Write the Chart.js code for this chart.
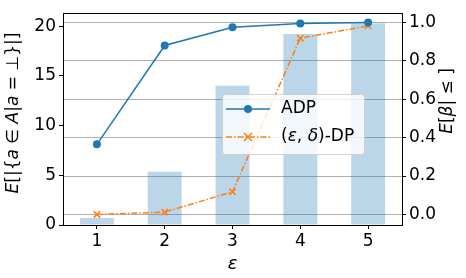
<!DOCTYPE html>
<html>
<head>
<meta charset="utf-8">
<script src="https://cdn.jsdelivr.net/npm/chart.js@4.4.0/dist/chart.umd.min.js"></script>
<style>
  html, body { margin: 0; padding: 0; background: #fff; }
  #grafico { display: block; }
</style>
</head>
<body>
<canvas id="grafico" width="466" height="278"></canvas>
<script>
const epsilons = ["1", "2", "3", "4", "5"];
const conteoBottom = [0.7, 5.35, 14.0, 19.2, 20.3];
const adp = [0.365, 0.88, 0.975, 0.995, 1.0];
const dpClasico = [0.0, 0.012, 0.118, 0.918, 0.982];
const ticksIzq = [0, 5, 10, 15, 20];
const ticksDer = [0, 0.2, 0.4, 0.6, 0.8, 1.0];

const fuente = "'DejaVu Sans', sans-serif";
const azul = "#1f77b4";
const naranja = "#ff7f0e";

// trozos de los textos: [texto, cursiva]
const tituloIzq = [["E", true], ["[|{", false], ["a", true], [" ∈ ", false], ["A", true], ["|", false], ["a", true], [" = ⊥}|]", false]];
const tituloDer = [["E", true], ["[", false], ["β", true], ["| ≤ ]", false]];
const etiquetaDP = [["(", false], ["ε", true], [", ", false], ["δ", true], [")-DP", false]];

function fijarTicks(lista) {
    return function (scale) {
        scale.ticks = lista.map(v => ({ value: v }));
    };
}

function textoMixto(ctx, trozos, x, y, centrado) {
    ctx.fillStyle = "#000";
    ctx.textBaseline = "middle";
    ctx.textAlign = "left";
    let total = 0;
    trozos.forEach(t => {
        ctx.font = (t[1] ? "italic " : "") + "17px " + fuente;
        total += ctx.measureText(t[0]).width;
    });
    let px = centrado ? x - total / 2 : x;
    trozos.forEach(t => {
        ctx.font = (t[1] ? "italic " : "") + "17px " + fuente;
        ctx.fillText(t[0], px, y);
        px += ctx.measureText(t[0]).width;
    });
}

function tituloVertical(ctx, trozos, cx, cy) {
    ctx.save();
    ctx.translate(cx, cy);
    ctx.rotate(-Math.PI / 2);
    textoMixto(ctx, trozos, 0, 0, true);
    ctx.restore();
}

// marco negro, titulos y leyenda dentro del grafico
const marcoYLeyenda = {
    id: "marcoYLeyenda",
    afterDatasetsDraw(chart) {
        const ctx = chart.ctx;
        const a = chart.chartArea;
        ctx.save();

        const x = 222, y = 94, w = 142, h = 60;
        ctx.fillStyle = "rgba(255,255,255,0.8)";
        ctx.strokeStyle = "rgba(204,204,204,0.8)";
        ctx.lineWidth = 1;
        ctx.beginPath();
        ctx.roundRect(x + 0.5, y + 0.5, w, h, 3);
        ctx.fill();
        ctx.stroke();

        ctx.lineWidth = 1.5;
        ctx.strokeStyle = azul;
        ctx.setLineDash([]);
        ctx.beginPath();
        ctx.moveTo(226, 109);
        ctx.lineTo(270, 109);
        ctx.stroke();
        ctx.fillStyle = azul;
        ctx.beginPath();
        ctx.arc(248, 109, 4, 0, Math.PI * 2);
        ctx.fill();

        ctx.strokeStyle = naranja;
        ctx.setLineDash([6, 2, 1.5, 2]);
        ctx.beginPath();
        ctx.moveTo(226, 137);
        ctx.lineTo(270, 137);
        ctx.stroke();
        ctx.setLineDash([]);
        ctx.beginPath();
        ctx.moveTo(244, 133); ctx.lineTo(252, 141);
        ctx.moveTo(252, 133); ctx.lineTo(244, 141);
        ctx.stroke();

        textoMixto(ctx, [["ADP", false]], 281, 109, false);
        textoMixto(ctx, etiquetaDP, 281, 137, false);

        ctx.strokeStyle = "#000";
        ctx.lineWidth = 1;
        ctx.strokeRect(Math.round(a.left) + 0.5, Math.round(a.top) + 0.5,
            Math.round(a.right - a.left), Math.round(a.bottom - a.top));
        ctx.restore();

        tituloVertical(ctx, tituloIzq, 14, 113);
        tituloVertical(ctx, tituloDer, 448, 101);
    }
};

new Chart(document.getElementById("grafico"), {
    data: {
        labels: epsilons,
        datasets: [
            {
                type: "bar",
                data: conteoBottom,
                yAxisID: "y",
                backgroundColor: "rgba(31,119,180,0.3)",
                barPercentage: 0.5,
                categoryPercentage: 1.0,
                order: 3
            },
            {
                type: "line",
                label: "ADP",
                data: adp,
                yAxisID: "y2",
                borderColor: azul,
                backgroundColor: azul,
                borderWidth: 1.5,
                pointStyle: "circle",
                pointRadius: 4,
                pointBorderWidth: 0,
                tension: 0,
                order: 1
            },
            {
                type: "line",
                label: "(ε, δ)-DP",
                data: dpClasico,
                yAxisID: "y2",
                borderColor: naranja,
                backgroundColor: naranja,
                borderWidth: 1.5,
                borderDash: [6, 2, 1.5, 2],
                pointStyle: "crossRot",
                pointRadius: 4.5,
                pointBorderWidth: 1.5,
                tension: 0,
                order: 2
            }
        ]
    },
    options: {
        responsive: false,
        animation: false,
        layout: { padding: { top: 6 } },
        plugins: {
            legend: { display: false },
            tooltip: { enabled: false }
        },
        scales: {
            x: {
                type: "category",
                offset: true,
                afterFit(scale) { scale.height = 53; },
                grid: { drawOnChartArea: false, offset: false, tickLength: 4, tickColor: "#000" },
                border: { display: false },
                ticks: { color: "#000", font: { family: fuente, size: 17 }, padding: 2 },
                title: {
                    display: true, text: "ε", color: "#000",
                    font: { family: fuente, size: 18, style: "italic" }, padding: { top: 0, bottom: 3 }
                }
            },
            y: {
                position: "left",
                min: 0,
                max: 21.3,
                afterBuildTicks: fijarTicks(ticksIzq),
                afterFit(scale) { scale.width = 63; },
                grid: { drawOnChartArea: false, tickLength: 4, tickColor: "#000" },
                border: { display: false },
                ticks: { color: "#000", font: { family: fuente, size: 17 }, padding: 3 }
            },
            y2: {
                position: "right",
                min: -0.055,
                max: 1.048,
                afterBuildTicks: fijarTicks(ticksDer),
                afterFit(scale) { scale.width = 64; },
                grid: { drawOnChartArea: true, color: "#b0b0b0", lineWidth: 1, tickLength: 4, tickColor: "#000" },
                border: { display: false },
                ticks: {
                    color: "#000", font: { family: fuente, size: 17 }, padding: 3,
                    callback: v => v.toFixed(1)
                }
            }
        }
    },
    plugins: [marcoYLeyenda]
});
</script>
</body>
</html>
